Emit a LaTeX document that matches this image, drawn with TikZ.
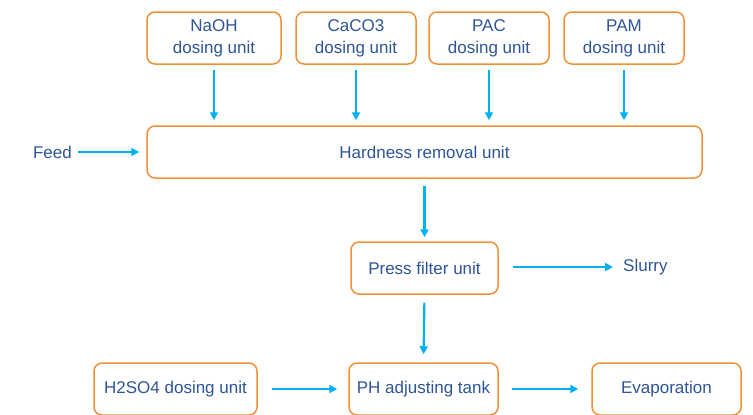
\documentclass[tikz,border=0pt]{standalone}
\usepackage{fontspec}
\setmainfont{Liberation Sans}
\usetikzlibrary{arrows.meta}
\definecolor{txtblue}{HTML}{2F5597}
\definecolor{boxorange}{HTML}{F0913A}
\definecolor{arrblue}{HTML}{00B0F0}
\tikzset{
  unitbox/.style={draw=boxorange, line width=1.5pt, rounded corners=8pt, fill=white,
    text=txtblue, align=center, minimum height=52pt, inner sep=0pt,
    font=\fontsize{17}{22}\selectfont},
  plain/.style={text=txtblue, inner sep=0pt, font=\fontsize{17}{22}\selectfont},
  flow/.style={draw=arrblue, line width=2.2pt, -{Triangle[length=8pt,width=8pt]}}
}
\begin{document}
\begin{tikzpicture}[x=1pt,y=-1pt]
\useasboundingbox (0,0) rectangle (753,415);
\node[unitbox, minimum width=134pt] (naoh) at (214,38) {NaOH\\dosing unit};
\node[unitbox, minimum width=120pt] (caco) at (356,38) {CaCO3\\dosing unit};
\node[unitbox, minimum width=120pt] (pac) at (489,38) {PAC\\dosing unit};
\node[unitbox, minimum width=120pt] (pam) at (624,38) {PAM\\dosing unit};
\node[unitbox, minimum width=555pt] (hard) at (424.5,152) {Hardness removal unit};
\node[plain, anchor=east] (feed) at (72,152) {Feed};
\node[unitbox, minimum width=147pt] (press) at (424.5,268) {Press filter unit};
\node[plain, anchor=west] (slurry) at (623,267) {Slurry};
\node[unitbox, minimum width=163pt] (h2so4) at (175.5,389) {H2SO4 dosing unit};
\node[unitbox, minimum width=149pt] (ph) at (423.5,389) {PH adjusting tank};
\node[unitbox, minimum width=149pt] (evap) at (666.5,389) {Evaporation};

\foreach \n in {naoh,caco,pac,pam}
  \draw[flow, shorten <=5pt, shorten >=5pt] (\n.south) -- (\n.south |- hard.north);
\draw[flow, shorten <=6pt, shorten >=7pt] (feed.east) -- (hard.west |- feed.east);
\draw[flow, shorten <=7pt, shorten >=4pt] (press.north |- hard.south) -- (press.north);
\draw[flow, shorten <=14pt, shorten >=10pt] (press.east |- slurry.west) -- (slurry.west);
\draw[flow, shorten <=8pt, shorten >=8pt] (press.south) -- (ph.north);
\draw[flow, shorten <=14pt, shorten >=11pt] (h2so4.east) -- (ph.west);
\draw[flow, shorten <=13pt, shorten >=13pt] (ph.east) -- (evap.west);
\end{tikzpicture}
\end{document}
